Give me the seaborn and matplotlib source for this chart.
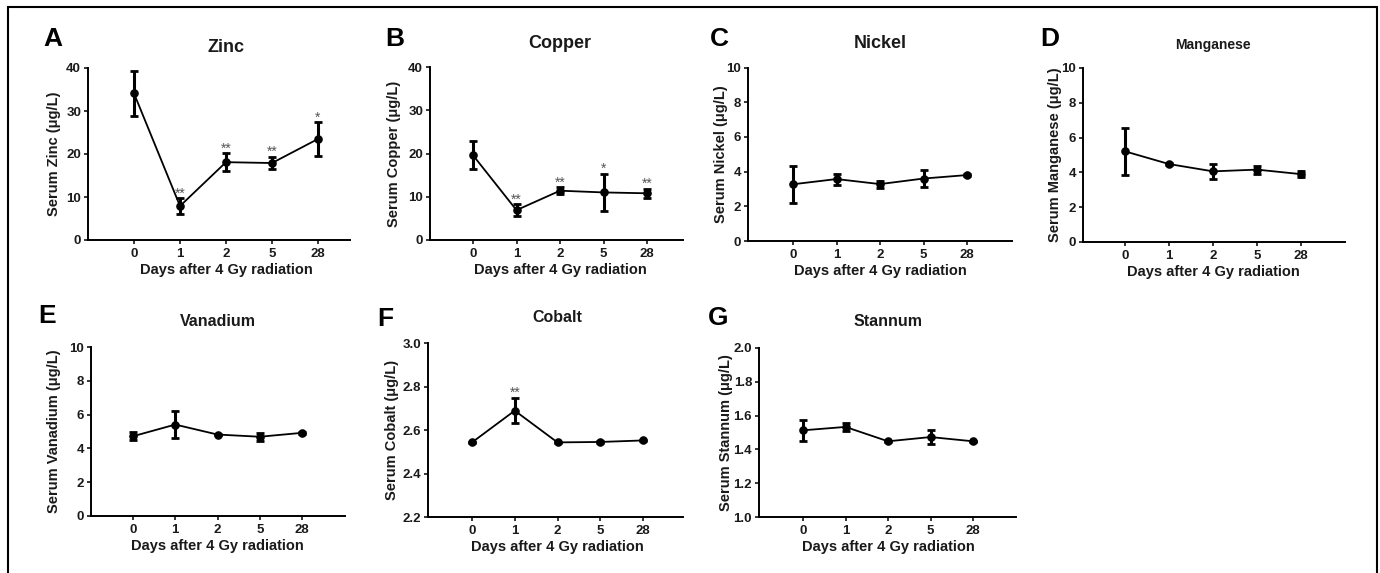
import numpy as np
import pandas as pd
import seaborn as sns
import matplotlib.pyplot as plt
from matplotlib.patches import Rectangle
from matplotlib.ticker import FormatStrFormatter

# ------------------------------
# Data (means and SD)
# ------------------------------
days = ["0", "1", "2", "5", "28"]

zinc_mean = [34.1, 7.9, 18.1, 17.9, 23.5]
zinc_sd = [5.3, 1.8, 2.1, 1.5, 3.9]
zinc_star = ["", "**", "**", "**", "*"]

copper_mean = [19.6, 6.9, 11.4, 11.0, 10.8]
copper_sd = [3.2, 1.4, 0.8, 4.3, 1.0]
copper_star = ["", "**", "**", "*", "**"]

nickel_mean = [3.27, 3.57, 3.28, 3.6, 3.8]
nickel_sd = [1.07, 0.32, 0.2, 0.48, 0.05]
nickel_star = ["", "", "", "", ""]

manganese_mean = [5.21, 4.48, 4.06, 4.16, 3.9]
manganese_sd = [1.37, 0.05, 0.44, 0.23, 0.18]
manganese_star = ["", "", "", "", ""]

vanadium_mean = [4.72, 5.41, 4.82, 4.69, 4.92]
vanadium_sd = [0.23, 0.8, 0.05, 0.25, 0.05]
vanadium_star = ["", "", "", "", ""]

cobalt_mean = [2.543, 2.689, 2.543, 2.545, 2.552]
cobalt_sd = [0.004, 0.059, 0.004, 0.004, 0.004]
cobalt_star = ["", "**", "", "", ""]

stannum_mean = [1.513, 1.533, 1.448, 1.473, 1.448]
stannum_sd = [0.062, 0.024, 0.004, 0.042, 0.004]
stannum_star = ["", "", "", "", ""]

elements = ["Zinc", "Copper", "Nickel", "Manganese", "Vanadium", "Cobalt", "Stannum"]
letters = ["A", "B", "C", "D", "E", "F", "G"]
means = [zinc_mean, copper_mean, nickel_mean, manganese_mean,
         vanadium_mean, cobalt_mean, stannum_mean]
sds = [zinc_sd, copper_sd, nickel_sd, manganese_sd,
       vanadium_sd, cobalt_sd, stannum_sd]
stars = [zinc_star, copper_star, nickel_star, manganese_star,
         vanadium_star, cobalt_star, stannum_star]
ylims = [(0, 40), (0, 40), (0, 10), (0, 10), (0, 10), (2.2, 3.0), (1.0, 2.0)]
ysteps = [10, 10, 2, 2, 2, 0.2, 0.2]

rows = []
for el, m, s in zip(elements, means, sds):
    for d, mv, sv in zip(days, m, s):
        rows.append({"element": el, "day": d, "mean": mv, "sd": sv})
df = pd.DataFrame(rows)

# ------------------------------
# Layout in pixels: axis left, right, top, bottom, x of "0", x of "28",
# letter (x, y), title centre y, title size, ylabel offset
# ------------------------------
W, H = 1380, 573
layout = [
    (88, 350, 68, 240, 134, 318, 43, 27, 48, 13, 27),
    (430, 683, 67, 240, 473, 647, 385, 27, 43, 13, 29),
    (748, 1012, 67.5, 241, 793, 967, 710, 27, 44, 13, 20),
    (1083, 1345, 68, 242, 1125, 1301, 1040, 27, 45, 10, 21),
    (91, 345, 347, 516, 133, 302, 38, 304, 322, 11.5, 30),
    (428, 683, 343, 517, 472, 643, 377, 307, 317, 11.5, 29),
    (759, 1016, 348, 517, 803, 973, 708, 306, 322, 11.5, 26),
]

sns.set_style("ticks")
plt.rcParams["font.family"] = ["Liberation Sans", "DejaVu Sans"]
plt.rcParams["font.weight"] = "bold"

fig = plt.figure(figsize=(W / 100, H / 100), dpi=100)

for i, el in enumerate(elements):
    l, r, t, b, x0, x28, lx, ly, ty, tsize, yoff = layout[i]
    ax = fig.add_axes([l / W, (H - b) / H, (r - l) / W, (b - t) / H])
    sub = df[df["element"] == el]

    sns.pointplot(
        data=sub, x="day", y="mean", order=days, errorbar=None,
        color="black", markersize=5.2, linewidth=1.3, ax=ax
    )
    ax.errorbar(
        np.arange(len(days)), sub["mean"], yerr=sub["sd"], fmt="none",
        ecolor="black", elinewidth=2.2, capsize=3, capthick=2.0, zorder=3
    )
    for j, st in enumerate(stars[i]):
        if st:
            ax.annotate(st, (j, means[i][j] + sds[i][j]), xytext=(0, 0.5),
                        textcoords="offset points", ha="center", va="baseline",
                        fontsize=10, fontweight="normal", color="#555555")

    spacing = (x28 - x0) / 4
    ax.set_xlim((l - x0) / spacing, (r - x0) / spacing)
    lo, hi = ylims[i]
    ax.set_ylim(lo, hi)
    ax.set_yticks(np.arange(lo, hi + ysteps[i] / 2, ysteps[i]))
    if ysteps[i] < 1:
        ax.yaxis.set_major_formatter(FormatStrFormatter("%.1f"))
    else:
        ax.yaxis.set_major_formatter(FormatStrFormatter("%d"))

    sns.despine(ax=ax)
    for sp in ["left", "bottom"]:
        ax.spines[sp].set_linewidth(1.4)
        ax.spines[sp].set_color("black")
    ax.tick_params(axis="both", length=3, width=1.1, color="black",
                   labelsize=9.5, labelcolor="#1a1a1a")
    ax.tick_params(axis="y", pad=2)
    ax.tick_params(axis="x", pad=3)
    for lab in ax.get_xticklabels() + ax.get_yticklabels():
        lab.set_fontweight("bold")

    width_px = r - l
    height_px = b - t
    xc = ((x0 + x28) / 2 - l) / width_px
    ax.set_xlabel("Days after 4 Gy radiation", fontsize=10.5, fontweight="bold",
                  color="#1a1a1a")
    ax.xaxis.set_label_coords(xc, -23 / height_px)
    ax.set_ylabel(f"Serum {el} (\u03bcg/L)", fontsize=10.5, fontweight="bold",
                  color="#1a1a1a")
    ax.yaxis.set_label_coords(-yoff / width_px, 0.5)

    ax.text(xc, 1 + (t - ty) / height_px, el, transform=ax.transAxes,
            ha="center", va="center", fontsize=tsize, fontweight="bold",
            color="#1a1a1a")
    fig.text(lx / W, 1 - ly / H, letters[i], ha="left", va="top",
             fontsize=19, fontweight="bold", color="black")

fig.patches.append(Rectangle((8 / W, -0.1), (1377 - 8) / W, 1.1 - 7 / H,
                             transform=fig.transFigure, fill=False,
                             lw=1.5, ec="black"))

fig.savefig("out.png", dpi=100)
